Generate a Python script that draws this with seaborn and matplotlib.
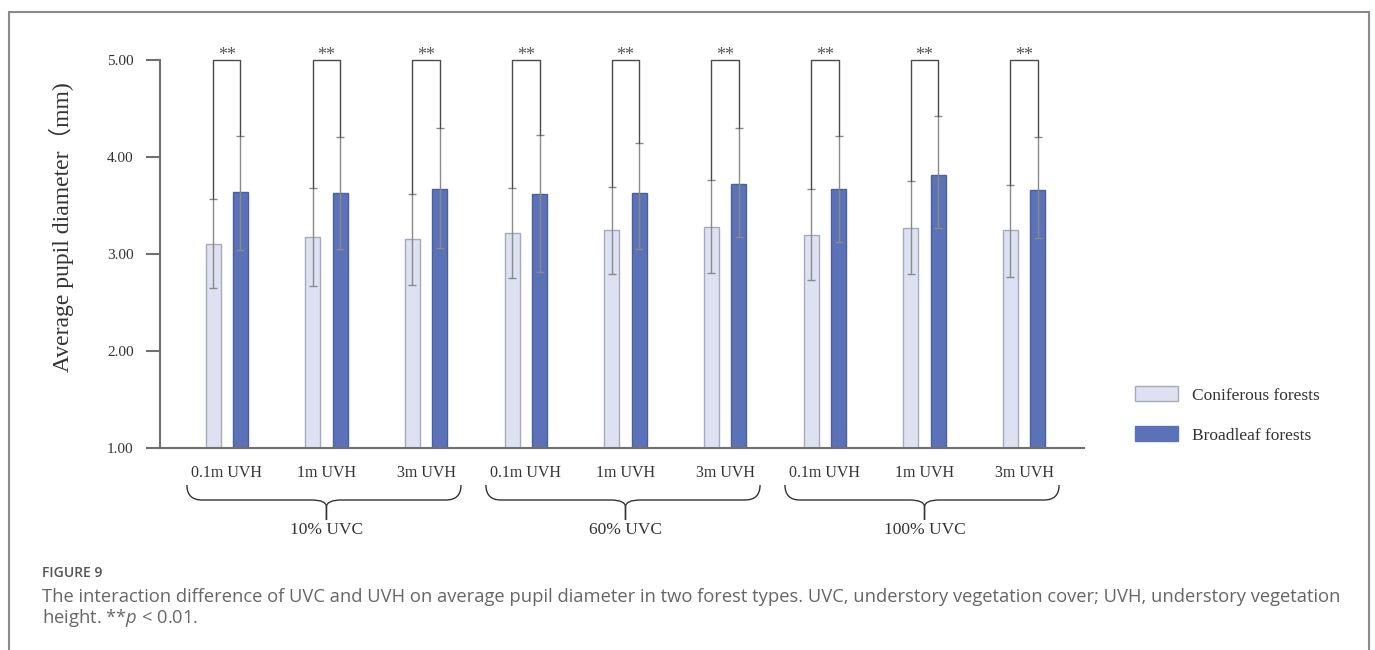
import numpy as np
import pandas as pd
import matplotlib
matplotlib.use("Agg")
import matplotlib.pyplot as plt
import matplotlib.transforms as mtransforms
from matplotlib.path import Path
from matplotlib.patches import PathPatch, Patch
from matplotlib.lines import Line2D
from matplotlib.ticker import FormatStrFormatter
import seaborn as sns

# ---------------- data ----------------
uvc_groups = ["10% UVC", "60% UVC", "100% UVC"]
uvh_levels = ["0.1m UVH", "1m UVH", "3m UVH"]
forest_types = ["Coniferous forests", "Broadleaf forests"]

coniferous_mean = [3.10, 3.18, 3.15, 3.22, 3.25, 3.28, 3.20, 3.27, 3.25]
coniferous_low = [2.65, 2.67, 2.68, 2.75, 2.79, 2.80, 2.73, 2.79, 2.76]
coniferous_high = [3.57, 3.68, 3.62, 3.68, 3.69, 3.76, 3.67, 3.75, 3.71]

broadleaf_mean = [3.64, 3.63, 3.67, 3.62, 3.63, 3.72, 3.67, 3.81, 3.66]
broadleaf_low = [3.04, 3.05, 3.06, 2.81, 3.05, 3.18, 3.12, 3.27, 3.16]
broadleaf_high = [4.22, 4.21, 4.30, 4.23, 4.14, 4.30, 4.22, 4.42, 4.21]

significance = ["**"] * 9
yticks = [1, 2, 3, 4, 5]
caption_title = "FIGURE 9"
caption_line1 = ("The interaction difference of UVC and UVH on average pupil diameter in two forest types. "
                 "UVC, understory vegetation cover; UVH, understory vegetation")
caption_line2 = "height. **$p$ < 0.01."

# ---------------- style ----------------
sns.set_theme(style="white")
plt.rcParams["font.family"] = ["Liberation Serif", "DejaVu Serif"]
plt.rcParams["mathtext.fontset"] = "custom"
plt.rcParams["mathtext.rm"] = "Open Sans"
plt.rcParams["mathtext.it"] = "Open Sans:italic"

c_con, e_con = "#dde1f2", "#a6a9b9"
c_broad, e_broad = "#5b72b9", "#4b5f9c"
axis_col = "#707070"
text_col = "#333333"

W, H = 1375, 650
fig = plt.figure(figsize=(W / 100, H / 100), dpi=100)
ax = fig.add_axes([160 / W, 1 - 448 / H, 924 / W, 388 / H])

cats = [f"{g}|{h}" for g in uvc_groups for h in uvh_levels]
df = pd.DataFrame({
    "cat": cats * 2,
    "forest": [forest_types[0]] * len(cats) + [forest_types[1]] * len(cats),
    "value": coniferous_mean + broadleaf_mean,
})

sns.barplot(data=df, x="cat", y="value", hue="forest", order=cats,
            hue_order=forest_types, palette=[c_con, c_broad],
            width=0.55, gap=0.455, linewidth=1, legend=False, ax=ax,
            saturation=1)

edges = [e_con, e_broad]
means = [coniferous_mean, broadleaf_mean]
lows = [coniferous_low, broadleaf_low]
highs = [coniferous_high, broadleaf_high]
centers = []
for k, cont in enumerate(ax.containers[:2]):
    patches = sorted(cont, key=lambda p: p.get_x())
    for p in patches:
        p.set_edgecolor(edges[k])
        p.set_linewidth(1)
    xs = np.array([p.get_x() + p.get_width() / 2 for p in patches])
    centers.append(xs)
    m = np.array(means[k])
    lo = np.array(lows[k])
    hi = np.array(highs[k])
    ax.errorbar(xs, m, yerr=[m - lo, hi - m], fmt="none", ecolor="#8a8a8a",
                elinewidth=1, capsize=2.6, capthick=1, zorder=3)

top = yticks[-1]
for i in range(len(cats)):
    xa, xb = centers[0][i], centers[1][i]
    ax.plot([xa, xa, xb, xb], [coniferous_high[i], top, top, broadleaf_high[i]],
            color="#4a4a4a", lw=1, clip_on=False, zorder=4)
    ax.annotate(significance[i], xy=((xa + xb) / 2, top), xytext=(0, 0),
                textcoords="offset points", ha="center", va="baseline",
                fontsize=13, color="#555555", annotation_clip=False)

ax.set_xlim(-0.67, 8.6)
ax.set_ylim(yticks[0], yticks[-1])
ax.set_yticks(yticks)
ax.yaxis.set_major_formatter(FormatStrFormatter("%.2f"))
ax.set_xticks(range(len(cats)))
ax.set_xticklabels(uvh_levels * len(uvc_groups))
ax.tick_params(axis="y", length=10, width=1.5, color=axis_col, pad=9,
               labelsize=11, labelcolor=text_col, left=True)
ax.tick_params(axis="x", length=0, pad=12, labelsize=11.5, labelcolor=text_col)
ax.set_xlabel("")
ax.set_ylabel("Average pupil diameter（mm)", fontsize=17, color=text_col,
              family=["Liberation Serif", "Noto Sans CJK SC"], va="center")
ax.yaxis.set_label_coords(-0.107, 0.568)
for s in ["top", "right"]:
    ax.spines[s].set_visible(False)
for s in ["left", "bottom"]:
    ax.spines[s].set_color(axis_col)
    ax.spines[s].set_linewidth(1.5)

# ---------------- braces & group labels ----------------
trans = mtransforms.blended_transform_factory(ax.transData, fig.transFigure)
yt, ym, ys, yb = 1 - 485 / H, 1 - 500 / H, 1 - 507 / H, 1 - 520 / H
r = 0.15
for g, name in enumerate(uvc_groups):
    first, mid, last = 3 * g, 3 * g + 1, 3 * g + 2
    x0, x1, xc = first - 0.4, last + 0.35, mid
    codes = [Path.MOVETO, Path.CURVE3, Path.CURVE3, Path.LINETO,
             Path.CURVE3, Path.CURVE3, Path.LINETO]
    for xe, sgn in [(x0, 1), (x1, -1)]:
        verts = [(xe, yt), (xe, ym), (xe + sgn * r, ym), (xc - sgn * r, ym),
                 (xc, ym), (xc, ys), (xc, yb)]
        ax.add_patch(PathPatch(Path(verts, codes), transform=trans, fill=False,
                               edgecolor="#333333", lw=1, clip_on=False))
    ax.text(xc, 1 - 530 / H, name, transform=trans, ha="center", va="center",
            fontsize=12.5, color=text_col)

# ---------------- legend ----------------
handles = [Patch(facecolor=c_con, edgecolor=e_con, lw=1),
           Patch(facecolor=c_broad, edgecolor=c_broad, lw=1)]
fig.legend(handles=handles, labels=forest_types, loc="center left",
           bbox_to_anchor=(1135 / W, 1 - 415 / H), frameon=False,
           fontsize=12.5, handlelength=2.47, handleheight=0.92,
           handletextpad=0.8, labelspacing=1.3, borderpad=0,
           borderaxespad=0, labelcolor=text_col)

# ---------------- outer frame ----------------
fx0, fx1, fy1 = 9 / W, 1369 / W, 1 - 11.5 / H
for xs_, ys_ in [([fx0, fx0], [0, fy1]), ([fx0, fx1], [fy1, fy1]), ([fx1, fx1], [fy1, 0])]:
    fig.add_artist(Line2D(xs_, ys_, transform=fig.transFigure, color="#8a8a8a", lw=1.5))

# ---------------- caption ----------------
fig.text(42 / W, 1 - 577 / H, caption_title, fontsize=10, family="Open Sans",
         weight="semibold", color="#555555", va="baseline")
fig.text(42 / W, 1 - 602 / H, caption_line1, fontsize=13.25, family="Open Sans",
         color="#666666", va="baseline")
fig.text(42 / W, 1 - 623 / H, caption_line2, fontsize=13.25, family="Open Sans",
         color="#666666", va="baseline")

fig.savefig("out.png", dpi=100)
